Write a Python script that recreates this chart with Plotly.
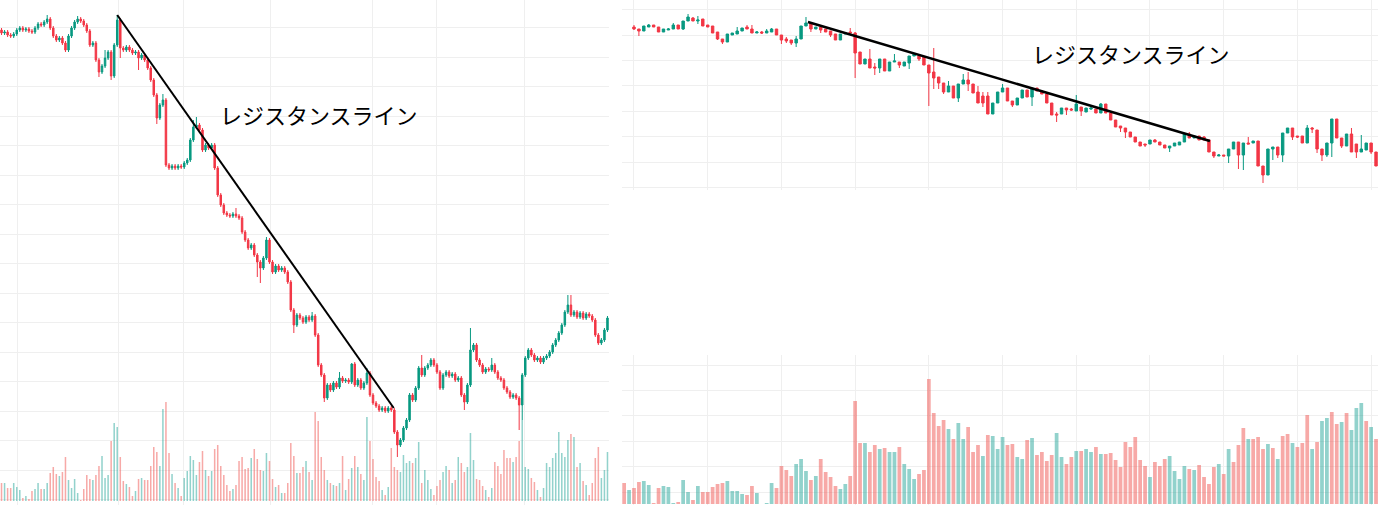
import plotly.graph_objects as go

# ---------------- Left chart (daily-like, ~200 candles) ----------------
L_OPEN = [970,967,968,965,964,966,970,972,970,971,
          969,968,972,976,975,978,981,972,964,960,
          962,957,950,964,972,978,981,979,975,969,
          955,957,940,928,934,942,948,924,955,980,
          952,950,953,950,947,948,942,945,940,932,
          920,905,882,895,900,835,832,834,832,834,
          833,837,840,860,873,875,870,850,855,852,
          855,832,805,795,787,785,784,786,784,782,
          768,760,752,755,745,738,732,742,760,738,
          728,734,730,732,728,718,690,675,685,682,
          678,683,680,684,665,635,625,602,615,610,
          617,613,622,619,620,618,636,615,620,612,
          617,627,605,597,594,590,592,589,592,590,
          568,555,560,572,580,605,600,612,632,625,
          632,635,640,635,628,612,625,628,624,626,
          620,622,605,598,615,650,655,640,635,628,
          631,630,635,628,622,620,612,608,603,605,
          602,595,625,642,650,645,640,642,638,642,
          644,648,655,660,667,675,688,695,685,688,
          683,687,682,686,684,680,665,657,660,670]
L_CLOSE = [967,968,965,964,966,970,972,970,971,969,
           968,972,976,975,978,981,972,964,960,962,
           957,950,964,972,978,981,979,975,969,955,
           957,940,928,934,942,948,924,955,980,952,
           950,953,950,947,948,942,945,940,932,920,
           905,882,895,900,835,832,834,832,834,833,
           837,840,860,873,875,870,850,855,852,855,
           832,805,795,787,785,784,786,784,782,768,
           760,752,755,745,738,732,742,760,738,728,
           734,730,732,728,718,690,675,685,682,678,
           683,680,684,665,635,625,602,615,610,617,
           613,622,619,620,618,636,615,620,612,617,
           627,605,597,594,590,592,589,592,590,568,
           555,560,572,580,605,600,612,632,625,632,
           635,640,635,628,612,625,628,624,626,620,
           622,605,598,615,650,655,640,635,628,631,
           630,635,628,622,620,612,608,603,605,602,
           595,625,642,650,645,640,642,638,642,644,
           648,655,660,667,675,688,695,685,688,683,
           687,682,686,684,680,665,657,660,670,682]
L_HIGH = [972,970,970,967,968,972,974,974,973,973,
          971,974,978,978,980,985,983,974,966,964,
          964,959,966,974,980,984,983,981,977,971,
          959,959,942,936,950,950,950,957,985,982,
          954,955,955,952,950,950,947,947,942,934,
          922,907,897,906,902,837,836,836,836,836,
          839,842,862,880,883,877,872,857,857,857,
          857,834,807,797,789,787,788,792,786,784,
          770,762,757,757,747,740,744,763,762,740,
          736,736,734,734,730,720,692,687,687,684,
          685,685,688,686,667,637,627,617,617,619,
          619,628,624,622,622,637,638,622,622,619,
          632,629,607,599,596,594,594,594,594,592,
          570,562,574,582,607,607,614,634,645,634,
          637,642,642,637,630,627,630,630,628,628,
          624,624,607,617,672,657,657,642,637,633,
          633,642,637,630,624,622,614,610,607,607,
          604,627,644,652,652,647,644,644,644,646,
          650,657,662,669,677,690,705,705,690,690,
          689,689,688,688,686,682,667,662,672,684]
L_LOW = [965,965,963,962,962,964,968,968,968,967,
         966,966,970,973,973,976,970,962,958,958,
         955,948,948,962,970,976,977,973,967,953,
         953,938,923,926,932,940,920,922,953,942,
         948,948,948,945,945,930,940,938,930,918,
         903,876,880,893,833,830,830,830,830,831,
         831,835,838,858,871,868,848,848,850,850,
         830,803,793,785,783,782,782,782,780,766,
         758,750,750,743,723,717,730,740,736,726,
         726,728,728,726,716,688,667,673,680,676,
         676,678,678,663,633,623,598,600,608,608,
         611,611,617,617,616,616,613,613,610,610,
         615,603,595,592,588,588,587,587,588,566,
         543,553,558,570,578,598,598,610,623,623,
         630,633,633,626,610,610,623,622,622,618,
         618,603,590,596,613,648,638,633,626,626,
         628,628,626,620,618,610,606,601,601,600,
         570,580,623,640,643,638,638,636,636,640,
         642,646,653,658,665,673,686,683,683,681,
         681,680,680,682,678,663,655,655,658,668]
L_VOL = [18,18,13,13,18,14,11,3,5,2,
         10,12,18,12,12,18,28,34,27,25,
         29,44,21,13,22,8,1,12,26,22,
         21,26,35,45,23,26,60,78,74,44,
         20,17,14,5,10,22,23,21,21,35,
         54,49,35,92,99,48,27,18,13,5,
         23,30,45,41,26,39,50,31,25,30,
         52,56,35,26,16,10,12,16,40,44,
         32,33,43,52,42,31,30,48,40,22,
         14,16,8,8,18,58,45,28,28,34,
         40,29,21,89,80,44,31,21,18,16,
         15,18,45,11,22,33,45,34,27,21,
         84,60,42,24,20,11,6,14,53,34,
         31,29,46,38,40,38,43,59,18,31,
         21,12,6,15,21,29,35,31,18,21,
         44,38,29,34,68,41,22,21,15,11,
         4,13,39,35,27,51,43,43,39,44,
         60,81,34,32,23,19,11,4,13,38,
         34,43,48,69,48,44,61,67,64,34,
         38,20,16,6,18,43,54,23,31,49]
L_TREND_X = [38, 128.8]
L_TREND_Y = [985, 592]
L_GRID_X = [5.1, 38.3, 59.7, 88.3, 121.9, 142.9, 171.9]

# ---------------- Right chart (~152 candles) ----------------
R_OPEN = [973,971,969,973,975,973,968,970,971,975,
          971,979,982,979,981,975,974,968,961,958,
          965,966,969,973,971,967,968,967,968,971,
          965,961,960,957,961,974,977,971,973,971,
          969,966,960,966,968,967,948,936,941,933,
          932,941,929,938,938,934,937,944,944,943,
          935,928,923,917,908,914,902,916,920,916,
          908,904,904,886,897,908,912,899,895,902,
          910,903,912,909,906,897,886,886,892,891,
          889,893,888,891,891,887,896,887,880,874,
          872,868,863,858,856,856,860,858,855,852,
          854,855,858,866,862,864,863,860,848,844,
          845,844,851,858,845,857,857,859,834,825,
          851,853,845,867,872,864,864,857,872,870,
          851,845,857,881,862,854,866,856,848,850,
          857,848]
R_CLOSE = [971,969,974,975,973,968,971,971,975,971,
           979,983,979,980,974,973,967,961,958,966,
           967,969,972,971,967,968,967,969,971,965,
           960,959,957,961,974,977,971,973,970,968,
           965,960,966,967,967,947,936,941,932,932,
           941,929,938,939,935,938,944,946,941,935,
           927,922,917,908,914,902,916,920,916,907,
           897,897,886,897,908,912,899,895,902,910,
           903,912,909,906,897,885,885,892,890,890,
           896,889,892,892,887,896,887,880,873,872,
           868,863,858,854,855,860,858,855,852,854,
           857,858,866,862,864,860,860,848,844,845,
           844,851,858,845,857,856,859,834,825,851,
           853,845,867,872,863,863,857,872,871,851,
           845,857,881,862,854,866,848,848,851,857,
           848,834]
R_HIGH = [975,971,974,976,975,973,971,972,977,975,
          979,986,983,984,981,975,974,968,961,966,
          967,973,972,975,975,969,969,971,972,971,
          965,963,960,964,974,983,977,973,973,971,
          969,966,966,968,972,968,948,941,951,937,
          941,941,938,946,938,938,944,946,944,943,
          935,952,923,917,919,914,916,926,928,916,
          914,908,908,897,908,916,912,899,902,910,
          910,912,912,909,906,897,888,892,892,892,
          905,893,892,893,891,897,896,887,880,874,
          872,868,863,858,856,860,861,858,855,854,
          857,858,866,868,864,864,864,860,848,846,
          845,851,858,858,857,863,859,859,834,851,
          853,853,867,872,872,864,864,875,873,870,
          851,857,881,881,862,866,872,856,865,857,
          857,848]
R_LOW = [970,964,969,973,973,968,968,970,971,971,
         970,979,979,976,974,973,967,960,956,958,
         965,966,969,971,967,967,966,967,968,965,
         956,957,955,953,961,974,968,971,967,968,
         963,960,960,966,967,922,936,936,932,925,
         927,929,929,938,932,934,931,944,939,935,
         894,911,911,906,908,902,898,916,909,907,
         897,893,886,886,897,908,899,893,895,902,
         903,894,909,906,897,885,878,886,885,889,
         889,884,888,890,887,887,887,880,873,868,
         862,863,858,854,853,856,858,855,852,848,
         854,855,858,862,862,860,860,848,842,844,
         844,837,851,831,830,856,857,834,817,825,
         840,842,838,867,860,862,857,857,867,847,
         839,843,843,862,852,854,848,842,848,850,
         846,834]
R_VOL = [21,14,16,22,23,19,1,16,18,17,
         1,2,24,12,4,18,12,12,17,20,
         21,23,13,13,10,9,18,11,0,1,
         21,16,38,34,28,40,45,33,24,28,
         45,32,27,18,15,20,28,103,61,61,
         52,59,55,56,52,52,57,40,35,25,
         30,34,125,91,78,84,75,65,81,65,
         77,52,59,48,69,68,55,
         67,59,60,47,45,64,66,49,52,43,
         49,71,47,40,47,53,53,55,52,57,
         50,50,51,44,37,62,57,67,44,38,
         27,42,38,45,48,33,25,38,35,34,
         39,27,20,37,40,30,55,42,59,76,
         65,65,67,55,60,56,45,68,70,61,
         57,61,89,55,62,83,86,92,80,82,
         91,74,96,101,83,77,65]
R_VOL_UP = [0,1,0,0,1,1,0,0,1,1,
            1,0,1,1,0,1,0,0,0,0,
            0,1,1,1,1,0,0,1,1,1,
            1,0,0,0,0,1,1,1,0,1,
            0,0,0,0,1,1,0,0,0,1,
            0,0,1,0,1,1,0,1,1,1,
            0,0,0,0,0,0,1,0,1,1,
            0,0,0,1,0,1,1,
            1,0,0,1,1,0,1,0,0,0,
            0,1,1,0,0,1,0,1,1,0,
            1,0,0,0,0,0,0,0,0,0,
            1,0,0,0,1,1,1,1,0,1,
            0,0,0,0,1,0,1,0,0,0,
            1,0,0,0,1,0,1,0,0,1,
            0,0,0,1,0,1,1,0,0,1,
            0,1,1,1,0,1,0]
R_VOL_START = -2
R_TREND_X = [35.4, 117.2]
R_TREND_Y = [978, 859]

LABEL = "レジスタンスライン"

for a in (L_OPEN, L_HIGH, L_LOW, L_CLOSE, L_VOL):
    assert len(a) == 200, len(a)
for a in (R_OPEN, R_HIGH, R_LOW, R_CLOSE):
    assert len(a) == 152, len(a)
assert len(R_VOL) == len(R_VOL_UP) == 154, (len(R_VOL), len(R_VOL_UP))

UP = "#089981"
DOWN = "#f23645"
UP_VOL = "rgba(38,166,154,0.5)"
DOWN_VOL = "rgba(239,83,80,0.5)"
GRID = "#efefef"

lx = list(range(len(L_CLOSE)))
rx = list(range(len(R_CLOSE)))
rvx = list(range(R_VOL_START, R_VOL_START + len(R_VOL)))
l_vcol = [UP_VOL if c >= o else DOWN_VOL for o, c in zip(L_OPEN, L_CLOSE)]
r_vcol = [UP_VOL if u else DOWN_VOL for u in R_VOL_UP]

fig = go.Figure()

# left volume
fig.add_trace(go.Bar(x=lx, y=L_VOL, marker=dict(color=l_vcol, line=dict(width=0)),
                     width=0.5, xaxis="x", yaxis="y", hoverinfo="skip"))
# left candles
fig.add_trace(go.Candlestick(x=lx, open=L_OPEN, high=L_HIGH, low=L_LOW, close=L_CLOSE,
                             increasing=dict(line=dict(color=UP, width=1), fillcolor=UP),
                             decreasing=dict(line=dict(color=DOWN, width=1), fillcolor=DOWN),
                             whiskerwidth=0, xaxis="x", yaxis="y2"))
fig.add_trace(go.Scatter(x=L_TREND_X, y=L_TREND_Y, mode="lines",
                         line=dict(color="#000000", width=2), xaxis="x", yaxis="y2"))

# right volume
fig.add_trace(go.Bar(x=rvx, y=R_VOL, marker=dict(color=r_vcol, line=dict(width=0)),
                     width=0.76, xaxis="x2", yaxis="y3", hoverinfo="skip"))
# right candles
fig.add_trace(go.Candlestick(x=rx, open=R_OPEN, high=R_HIGH, low=R_LOW, close=R_CLOSE,
                             increasing=dict(line=dict(color=UP, width=1), fillcolor=UP),
                             decreasing=dict(line=dict(color=DOWN, width=1), fillcolor=DOWN),
                             whiskerwidth=0, xaxis="x2", yaxis="y4"))
fig.add_trace(go.Scatter(x=R_TREND_X, y=R_TREND_Y, mode="lines",
                         line=dict(color="#000000", width=2.5), xaxis="x2", yaxis="y4"))

hidden = dict(showticklabels=False, ticks="", zeroline=False, showline=False)

fig.update_layout(
    width=1378, height=505,
    margin=dict(l=0, r=0, t=0, b=0),
    paper_bgcolor="white", plot_bgcolor="white",
    showlegend=False,
    boxgap=0.3,
    font=dict(family="Noto Sans CJK JP"),
    xaxis=dict(domain=[0, 609 / 1378], range=[-0.5, 199.5], anchor="y",
               tickmode="array", tickvals=L_GRID_X, showgrid=True, gridcolor=GRID,
               rangeslider=dict(visible=False), **hidden),
    yaxis=dict(domain=[0, 1], range=[-4, 501], anchor="x", showgrid=False, **hidden),
    yaxis2=dict(overlaying="y", anchor="x", range=[495, 1000], tickmode="linear",
                tick0=530, dtick=29.47, showgrid=True, gridcolor=GRID, **hidden),
    xaxis2=dict(domain=[622 / 1378, 1], range=[-2.44, 151.4], anchor="y3",
                tickmode="linear", tick0=0, dtick=15, showgrid=True, gridcolor=GRID,
                rangeslider=dict(visible=False), **hidden),
    # right volume pane (bottom)
    yaxis3=dict(domain=[0, 150 / 505], range=[-1, 149], anchor="x2",
                tickmode="linear", tick0=12, dtick=25.4,
                showgrid=True, gridcolor=GRID, **hidden),
    # right price pane (top)
    yaxis4=dict(domain=[1 - 190 / 505, 1], range=[810, 1000], anchor="x2",
                tickmode="linear", tick0=965, dtick=25.4,
                showgrid=True, gridcolor=GRID, **hidden),
    annotations=[
        dict(text=LABEL, xref="paper", yref="paper", x=218 / 1378, y=1 - 114 / 505,
             xanchor="left", yanchor="middle", showarrow=False,
             font=dict(size=22, color="#000000", family="Noto Sans CJK JP")),
        dict(text=LABEL, xref="paper", yref="paper", x=1030 / 1378, y=1 - 53 / 505,
             xanchor="left", yanchor="middle", showarrow=False,
             font=dict(size=22, color="#000000", family="Noto Sans CJK JP")),
    ],
)

fig.write_html("out.html")
